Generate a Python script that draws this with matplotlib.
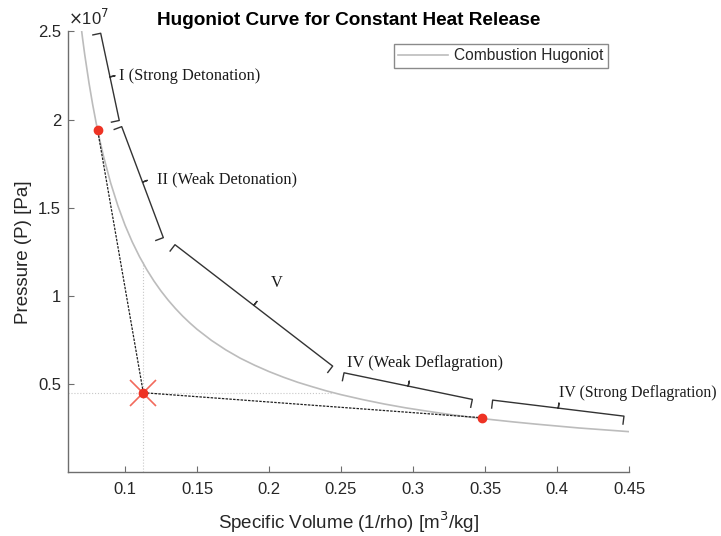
import numpy as np
import matplotlib
matplotlib.use("Agg")
import matplotlib.pyplot as plt

plt.rcParams["font.family"] = ["Liberation Sans", "DejaVu Sans"]

# Hugoniot curve (v in m^3/kg, P in MPa)
v_curve = [0.069, 0.0705, 0.072, 0.075, 0.0775, 0.080, 0.0825, 0.085, 0.090, 0.095,
           0.100, 0.105, 0.110, 0.115, 0.120, 0.125, 0.130, 0.135, 0.140, 0.145,
           0.150, 0.160, 0.170, 0.180, 0.190, 0.200, 0.210, 0.220, 0.230, 0.240,
           0.250, 0.265, 0.280, 0.295, 0.310, 0.325, 0.340, 0.355, 0.370, 0.385,
           0.400, 0.415, 0.430, 0.450]
p_curve = [25.60, 24.62, 23.70, 22.07, 20.87, 19.79, 18.82, 17.94, 16.41, 15.12,
           14.01, 13.06, 12.23, 11.50, 10.85, 10.27, 9.75, 9.28, 8.85, 8.46,
           8.10, 7.47, 6.93, 6.46, 6.06, 5.70, 5.38, 5.09, 4.84, 4.60,
           4.39, 4.11, 3.86, 3.64, 3.45, 3.27, 3.11, 2.97, 2.84, 2.72,
           2.61, 2.50, 2.41, 2.29]

# points marked on the chart
v_init, p_init = 0.1127, 4.50
v_cj = [0.0810, 0.3477]
p_cj = [19.39, 3.08]
# where the guide lines from the initial state meet the curve
v_hit, p_hit = 0.2445, 11.9

# region braces: start (v, P), end (v, P), label position, label
brace_start = [(0.0831, 24.9), (0.0977, 19.6), (0.1347, 12.9), (0.2521, 5.63), (0.3553, 4.08)]
brace_end = [(0.0960, 19.95), (0.1266, 13.3), (0.2442, 6.01), (0.3412, 4.12), (0.4465, 3.17)]
label_pos = [(0.0960, 22.5), (0.1224, 16.6), (0.2015, 10.7), (0.2542, 6.18), (0.4012, 4.48)]
labels = ["I (Strong Detonation)", "II (Weak Detonation)", "V",
          "IV (Weak Deflagration)", "IV (Strong Deflagration)"]
label_size = [11.8, 11.8, 11.8, 11.8, 11.4]

x_ticks = [0.1, 0.15, 0.2, 0.25, 0.3, 0.35, 0.4, 0.45]
y_ticks = [0.5, 1, 1.5, 2, 2.5]

ink = "#262626"
axis_col = "#6e6e6e"

fig = plt.figure(figsize=(7.21, 5.36), dpi=100)
ax = fig.add_axes([68 / 721, 64 / 536, 561 / 721, 440.5 / 536])

Pa = np.array(p_curve) * 1e6
ax.plot(v_curve, Pa, color="#bcbcbc", lw=1.2, label="Combustion Hugoniot", zorder=2)

# guide lines through the initial state
ax.plot([0.0604, v_hit], [p_init * 1e6, p_init * 1e6], color="#c8c8c8", lw=0.8, ls=":", zorder=1)
ax.plot([v_init, v_init], [0, p_hit * 1e6], color="#c8c8c8", lw=0.8, ls=":", zorder=1)

# Rayleigh lines
for v, p in zip(v_cj, p_cj):
    ax.plot([v_init, v], [p_init * 1e6, p * 1e6], color="#202020", lw=0.9,
            ls=(0, (2, 1)), zorder=3)

ax.plot(v_init, p_init * 1e6, marker="x", ms=19, mew=1.2, color="#f26a5c", zorder=4)
ax.plot(v_init, p_init * 1e6, "o", ms=6, color="#ee3324", zorder=5)
ax.plot(v_cj, np.array(p_cj) * 1e6, "o", ms=6, color="#ee3324", ls="none", zorder=5)

ax.set_xlim(0.0604, 0.45)
ax.set_ylim(0, 2.5e7)
ax.set_xticks(x_ticks)
ax.set_xticklabels([f"{t:g}" for t in x_ticks])
ax.set_yticks(np.array(y_ticks) * 1e7)
ax.set_yticklabels([f"{t:g}" for t in y_ticks])
ax.tick_params(direction="in", length=4, width=0.8, colors=axis_col,
               labelcolor=ink, labelsize=12)
ax.tick_params(axis="x", pad=7)
ax.tick_params(axis="y", pad=5)
for s in ["top", "right"]:
    ax.spines[s].set_visible(False)
for s in ["left", "bottom"]:
    ax.spines[s].set_color(axis_col)
    ax.spines[s].set_linewidth(1.0)

ax.text(0.0, 1.008, r"$\times$10$^7$", transform=ax.transAxes, fontsize=12,
        color=ink, ha="left", va="bottom")

ax.set_title("Hugoniot Curve for Constant Heat Release", fontsize=13.7,
             fontweight="bold", color="black", pad=5)
ax.set_xlabel(r"Specific Volume (1/rho) [m$^3$/kg]", fontsize=13.5, color=ink, labelpad=9)
ax.set_ylabel("Pressure (P) [Pa]", fontsize=13.5, color=ink, labelpad=4)

leg = ax.legend(loc="upper right", bbox_to_anchor=(0.977, 0.99), fontsize=11.2,
                handlelength=3.2, fancybox=False, framealpha=1, borderpad=0.3,
                handletextpad=0.4)
leg.get_frame().set_edgecolor("#8a8a8a")
leg.get_frame().set_linewidth(1.0)
for t in leg.get_texts():
    t.set_color(ink)


def brace(a0, a1, hook=8, tick=5):
    tr = ax.transData
    p = tr.transform([(a0[0], a0[1] * 1e6), (a1[0], a1[1] * 1e6)])
    d = p[1] - p[0]
    u = d / np.hypot(*d)
    n = np.array([u[1], -u[0]])
    mid = (p[0] + p[1]) / 2
    pts = [p[0] + n * hook, p[0], mid, mid - n * tick, mid, p[1], p[1] + n * hook]
    dpts = tr.inverted().transform(pts)
    ax.plot(dpts[:, 0], dpts[:, 1], color="#333333", lw=1.0, clip_on=False, zorder=3)


for s0, s1, lp, lab, fs in zip(brace_start, brace_end, label_pos, labels, label_size):
    brace(s0, s1)
    ax.text(lp[0], lp[1] * 1e6, lab, fontsize=fs, family="Liberation Serif",
            color="#1a1a1a", ha="left", va="center", clip_on=False)

fig.savefig("out.png", dpi=100)
